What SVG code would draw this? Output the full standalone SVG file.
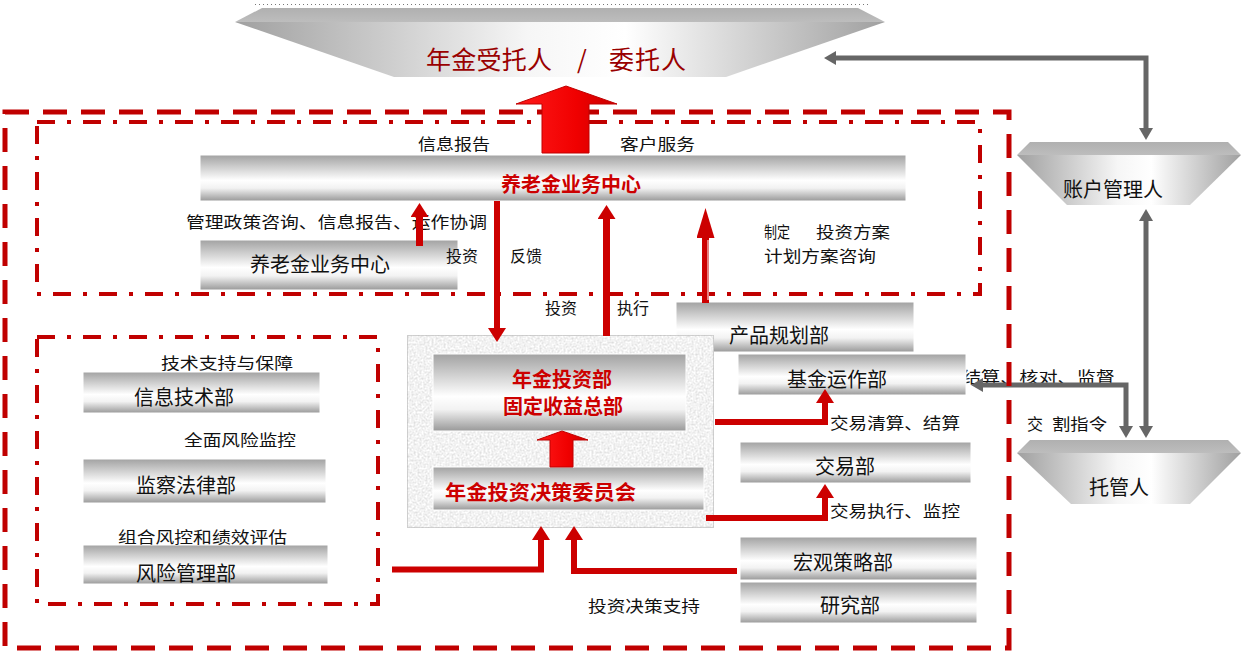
<svg xmlns="http://www.w3.org/2000/svg" width="1242" height="654" viewBox="0 0 1242 654">
<defs>
<style>
text{font-family:"Noto Sans CJK SC","Noto Sans",sans-serif}
.lb{font-size:16px;fill:#111}
.bt{font-size:20px;fill:#111}
.rt{font-size:20px;fill:#CC0000;font-weight:bold}
.box{fill:url(#gb);stroke:#fff;stroke-width:1}
.band{fill:url(#gband)}
.trap{fill:url(#gtrap)}
.red{fill:none;stroke:#CC0000;stroke-linejoin:miter}
.gray{fill:none;stroke:#666;stroke-width:5;stroke-linejoin:miter}
.fr{fill:none;stroke:#C00000}
</style>
<linearGradient id="gb" x1="0" y1="0" x2="0" y2="1">
<stop offset="0" stop-color="#a2a2a2"/>
<stop offset="0.55" stop-color="#ffffff"/>
<stop offset="0.72" stop-color="#f2f2f2"/>
<stop offset="1" stop-color="#999999"/>
</linearGradient>
<linearGradient id="gtrap" x1="0" y1="0" x2="1" y2="0">
<stop offset="0" stop-color="#a0a0a0"/>
<stop offset="0.45" stop-color="#f6f6f6"/>
<stop offset="0.6" stop-color="#ffffff"/>
<stop offset="1" stop-color="#a0a0a0"/>
</linearGradient>
<linearGradient id="gband" x1="0" y1="0" x2="0" y2="1">
<stop offset="0" stop-color="#b0b0b0"/>
<stop offset="1" stop-color="#bdbdbd"/>
</linearGradient>
<linearGradient id="gbig" x1="0" y1="0" x2="1" y2="0">
<stop offset="0" stop-color="#ff1a1a"/>
<stop offset="0.6" stop-color="#f00000"/>
<stop offset="1" stop-color="#c80000"/>
</linearGradient>
<filter id="tex" x="0" y="0" width="1" height="1">
<feTurbulence type="fractalNoise" baseFrequency="0.5" numOctaves="3" seed="4" result="n"/>
<feColorMatrix in="n" type="matrix" values="0.5 0 0 0 0.64  0.5 0 0 0 0.64  0.5 0 0 0 0.64  0 0 0 0 1" result="g"/>
<feComposite in="g" in2="SourceGraphic" operator="in"/>
</filter>
<marker id="rh" viewBox="0 0 14 18" markerWidth="14" markerHeight="18" refX="1" refY="9" orient="auto" markerUnits="userSpaceOnUse">
<path d="M0,0 L14,9 L0,18 z" fill="#CC0000"/>
</marker>
<marker id="rh2" viewBox="0 0 30 18" markerWidth="30" markerHeight="18" refX="1" refY="9" orient="auto" markerUnits="userSpaceOnUse">
<path d="M0,0 L30,9 L0,18 z" fill="#CC0000"/>
</marker>
<marker id="gh" viewBox="0 0 12 14" markerWidth="12" markerHeight="14" refX="1" refY="7" orient="auto-start-reverse" markerUnits="userSpaceOnUse">
<path d="M0,0 L12,7 L0,14 z" fill="#666"/>
</marker>
</defs>

<rect width="1242" height="654" fill="#fff"/>

<g id="label-under">
<text class="lb" x="962" y="383" textLength="153" lengthAdjust="spacingAndGlyphs">结算、核对、监督</text>
</g>

<g id="nodes">
<g id="trustee">
<line x1="255" y1="4.5" x2="868" y2="4.5" stroke="#777" stroke-width="1" stroke-dasharray="1 3"/>
<polygon class="trap" points="235,22 885,22 726,77 394,77"/>
<polygon class="band" points="262,8 858,8 885,22 235,22"/>
<text x="426" y="69" style="font-size:25px;fill:#990000"><tspan x="426" textLength="126">年金受托人</tspan><tspan x="577">/</tspan><tspan x="609" textLength="77">委托人</tspan></text>
</g>
<g id="account-manager">
<polygon class="trap" points="1017,155 1241,155 1190,205 1067,205"/>
<polygon class="band" points="1030,142 1228,142 1241,155 1017,155"/>
<text class="bt" x="1113" y="197" text-anchor="middle">账户管理人</text>
</g>
<g id="custodian">
<polygon class="trap" points="1017,453 1241,453 1190,504 1071,504"/>
<polygon class="band" points="1030,440 1228,440 1241,453 1017,453"/>
<text class="bt" x="1119" y="495" text-anchor="middle">托管人</text>
</g>
<g id="pension-center-main">
<rect class="box" x="200" y="155" width="706" height="46"/>
<text class="rt" x="571" y="192" text-anchor="middle">养老金业务中心</text>
</g>
<g id="pension-center-sub">
<rect class="box" x="200" y="240" width="258" height="50"/>
<text class="bt" x="320" y="272" text-anchor="middle">养老金业务中心</text>
</g>
<g id="product-planning">
<rect class="box" x="676" y="302" width="238" height="50"/>
<text class="bt" x="779" y="343" text-anchor="middle">产品规划部</text>
</g>
<g id="investment-container">
<rect x="407" y="335" width="307" height="193" fill="#eee" filter="url(#tex)"/>
<rect x="407.5" y="335.5" width="306" height="192" fill="none" stroke="#aaa" stroke-width="1" stroke-dasharray="1 1"/>
</g>
<g id="investment-dept">
<rect class="box" x="433" y="354" width="253" height="77"/>
<text class="rt" x="562" y="387" text-anchor="middle">年金投资部</text>
<text class="rt" x="563" y="414" text-anchor="middle">固定收益总部</text>
</g>
<g id="decision-committee">
<rect class="box" x="433" y="467" width="271" height="43"/>
<text class="rt" x="445" y="500" textLength="191" lengthAdjust="spacingAndGlyphs">年金投资决策委员会</text>
</g>
<g id="fund-ops">
<rect class="box" x="738" y="354" width="228" height="41"/>
<text class="bt" x="837" y="387" text-anchor="middle">基金运作部</text>
</g>
<g id="trading">
<rect class="box" x="740" y="442" width="231" height="41"/>
<text class="bt" x="845" y="474" text-anchor="middle">交易部</text>
</g>
<g id="macro-strategy">
<rect class="box" x="740" y="537" width="237" height="43"/>
<text class="bt" x="843" y="570" text-anchor="middle">宏观策略部</text>
</g>
<g id="research">
<rect class="box" x="740" y="582" width="237" height="41"/>
<text class="bt" x="850" y="613" text-anchor="middle">研究部</text>
</g>
<g id="it-dept">
<rect class="box" x="83" y="372" width="237" height="41"/>
<text class="bt" x="134" y="405">信息技术部</text>
</g>
<g id="legal-dept">
<rect class="box" x="83" y="459" width="243" height="44"/>
<text class="bt" x="136" y="493">监察法律部</text>
</g>
<g id="risk-dept">
<rect class="box" x="83" y="545" width="245" height="39"/>
<text class="bt" x="136" y="581">风险管理部</text>
</g>
</g>

<g id="labels">
<text class="lb" x="418" y="150" textLength="72" lengthAdjust="spacingAndGlyphs">信息报告</text>
<text class="lb" x="620" y="150" textLength="75" lengthAdjust="spacingAndGlyphs">客户服务</text>
<text class="lb" x="186" y="228" textLength="301" lengthAdjust="spacingAndGlyphs">管理政策咨询、信息报告、运作协调</text>
<text class="lb" x="446" y="262" textLength="32" lengthAdjust="spacingAndGlyphs">投资</text>
<text class="lb" x="510" y="262" textLength="32" lengthAdjust="spacingAndGlyphs">反馈</text>
<text class="lb" x="545" y="314" textLength="32" lengthAdjust="spacingAndGlyphs">投资</text>
<text class="lb" x="617" y="314" textLength="32" lengthAdjust="spacingAndGlyphs">执行</text>
<text class="lb" y="238"><tspan x="764" textLength="26" lengthAdjust="spacingAndGlyphs">制定</tspan><tspan x="816" textLength="74" lengthAdjust="spacingAndGlyphs">投资方案</tspan></text>
<text class="lb" x="764" y="262" textLength="112" lengthAdjust="spacingAndGlyphs">计划方案咨询</text>
<text class="lb" x="161" y="369" textLength="132" lengthAdjust="spacingAndGlyphs">技术支持与保障</text>
<text class="lb" x="184" y="446" textLength="112" lengthAdjust="spacingAndGlyphs">全面风险监控</text>
<text class="lb" x="118" y="543" textLength="169" lengthAdjust="spacingAndGlyphs">组合风控和绩效评估</text>
<text class="lb" x="830" y="429" textLength="130" lengthAdjust="spacingAndGlyphs">交易清算、结算</text>
<text class="lb" x="830" y="517" textLength="130" lengthAdjust="spacingAndGlyphs">交易执行、监控</text>
<text class="lb" y="430"><tspan x="1027">交</tspan><tspan x="1052" textLength="55" lengthAdjust="spacingAndGlyphs">割指令</tspan></text>
<text class="lb" x="588" y="612" textLength="112" lengthAdjust="spacingAndGlyphs">投资决策支持</text>
</g>

<g id="connectors">
<g id="gray-connectors">
<path class="gray" d="M835,58 H1146 V129" marker-start="url(#gh)" marker-end="url(#gh)"/>
<path class="gray" d="M1146,220 V427" marker-start="url(#gh)" marker-end="url(#gh)"/>
<path class="gray" d="M982,385 H1126 V427" marker-start="url(#gh)" marker-end="url(#gh)"/>
</g>
<g id="frames">
<rect class="fr" x="5" y="112" width="1004" height="536" stroke-width="5" stroke-dasharray="24 14"/>
<rect class="fr" x="37" y="122" width="943" height="172" stroke-width="4" stroke-dasharray="18 12 4 12"/>
<rect class="fr" x="37" y="337" width="341" height="267" stroke-width="4" stroke-dasharray="18 12 4 12"/>
</g>
<g id="red-connectors">
<polygon points="566,86 617,104 589,104 589,153 542,153 542,104 516,104" fill="url(#gbig)" stroke="#c00000" stroke-width="1"/>
<polygon points="562,431 588,440 573,440 573,467 550,467 550,440 537,440" fill="url(#gbig)" stroke="#c00000" stroke-width="1"/>
<line class="red" x1="419.5" y1="246" x2="419.5" y2="216" stroke-width="7" marker-end="url(#rh)"/>
<line class="red" x1="497" y1="201" x2="497" y2="329" stroke-width="6" marker-end="url(#rh)"/>
<line class="red" x1="606.5" y1="336" x2="606.5" y2="218" stroke-width="7" marker-end="url(#rh)"/>
<line class="red" x1="705.5" y1="303" x2="705.5" y2="237" stroke-width="7" marker-end="url(#rh2)"/>
<line x1="708" y1="300" x2="708" y2="240" stroke="#fff" stroke-width="1"/>
<path class="red" d="M715,422 H825 V402" stroke-width="6" marker-end="url(#rh)"/>
<path class="red" d="M706,518 H825 V497" stroke-width="6" marker-end="url(#rh)"/>
<path class="red" d="M392,569.5 H541 V539" stroke-width="6" marker-end="url(#rh)"/>
<path class="red" d="M737,571 H574 V539" stroke-width="6" marker-end="url(#rh)"/>
</g>
</g>
</svg>
